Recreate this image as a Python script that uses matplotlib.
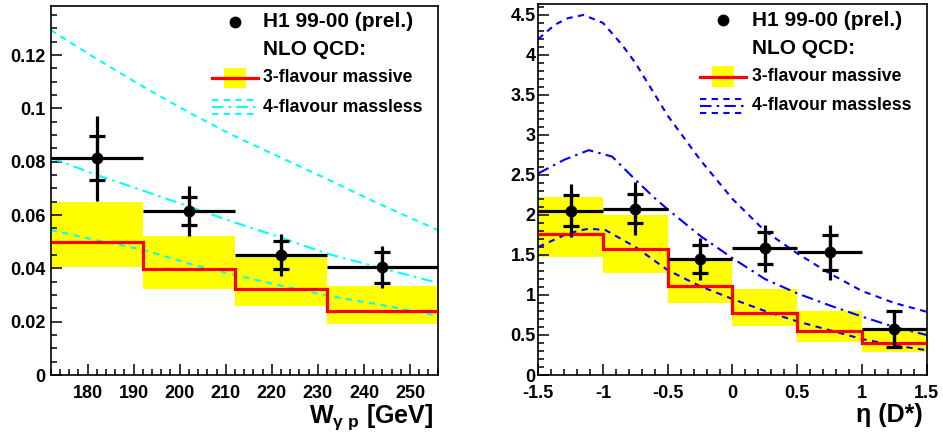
import matplotlib
matplotlib.use("Agg")
import matplotlib.pyplot as plt
from matplotlib.patches import Rectangle
from matplotlib.ticker import MultipleLocator, FuncFormatter, AutoMinorLocator
import numpy as np

plt.rcParams['font.family'] = ['Liberation Sans', 'DejaVu Sans']
plt.rcParams['font.weight'] = 'bold'
plt.rcParams['axes.unicode_minus'] = False
plt.rcParams['mathtext.fontset'] = 'custom'
plt.rcParams['mathtext.rm'] = 'Liberation Sans:bold'
plt.rcParams['mathtext.it'] = 'Liberation Sans:bold'
plt.rcParams['mathtext.bf'] = 'Liberation Sans:bold'

# ---------------- Left panel: W_gamma_p ----------------
W_edges = [172, 192, 212, 232, 256]
W_centers = [182, 202, 222, 244]
W_xerr = [10, 10, 10, 12]
W_data = [0.0813, 0.0616, 0.0450, 0.0404]
W_stat = [0.0082, 0.0052, 0.0052, 0.0058]
W_tot = [0.0160, 0.0094, 0.0077, 0.0078]
W_band_lo = [0.0406, 0.0321, 0.0260, 0.0191]
W_band_hi = [0.0648, 0.0523, 0.0444, 0.0334]
W_nlo3 = [0.0500, 0.0398, 0.0323, 0.0240]

W_curve_x = [172, 182, 192, 202, 212, 222, 232, 242, 256]
W_upper = [0.1294, 0.1185, 0.1082, 0.0985, 0.0895, 0.0815, 0.0735, 0.0652, 0.0544]
W_curve_x2 = [172, 182, 192, 202, 212, 222, 232, 244, 256]
W_mid = [0.0815, 0.0750, 0.0692, 0.0632, 0.0572, 0.0515, 0.0455, 0.0400, 0.0346]
W_lower = [0.0544, 0.0505, 0.0470, 0.0418, 0.0375, 0.0335, 0.0298, 0.0262, 0.0222]

# ---------------- Right panel: eta(D*) ----------------
eta_edges = [-1.5, -1.0, -0.5, 0.0, 0.5, 1.0, 1.5]
eta_centers = [-1.25, -0.75, -0.25, 0.25, 0.75, 1.25]
eta_data = [2.054, 2.080, 1.446, 1.583, 1.533, 0.575]
eta_stat = [0.190, 0.185, 0.177, 0.200, 0.220, 0.225]
eta_tot = [0.330, 0.335, 0.260, 0.290, 0.340, 0.235]
eta_band_lo = [1.479, 1.271, 0.896, 0.6125, 0.417, 0.290]
eta_band_hi = [2.225, 2.004, 1.458, 1.071, 0.804, 0.583]
eta_nlo3 = [1.758, 1.571, 1.1125, 0.771, 0.550, 0.404]

eta_up_x = [-1.5, -1.37, -1.27, -1.15, -1.0, -0.85, -0.75, -0.5, -0.25, 0.0, 0.25, 0.5, 0.75, 1.0, 1.25, 1.5]
eta_upper = [4.20, 4.38, 4.46, 4.50, 4.40, 4.12, 3.90, 3.24, 2.69, 2.20, 1.80, 1.52, 1.27, 1.05, 0.90, 0.79]
eta_mid_x = [-1.5, -1.3, -1.11, -0.93, -0.75, -0.6, -0.5, -0.25, 0.0, 0.25, 0.5, 0.75, 1.0, 1.25, 1.5]
eta_mid = [2.52, 2.69, 2.81, 2.73, 2.44, 2.21, 2.07, 1.74, 1.46, 1.20, 1.02, 0.87, 0.73, 0.60, 0.50]
eta_lo_x = [-1.5, -1.27, -1.11, -0.98, -0.75, -0.5, -0.25, 0.0, 0.25, 0.5, 0.75, 1.0, 1.25, 1.5]
eta_lower = [1.60, 1.77, 1.83, 1.81, 1.60, 1.31, 1.11, 0.95, 0.80, 0.67, 0.56, 0.45, 0.37, 0.31]

legend_data = "H1 99-00 (prel.)"
legend_nlo = "NLO QCD:"
legend_3f = "3-flavour massive"
legend_4f = "4-flavour massless"

DASH = (0, (3.0, 2.6))
DASHDOT = (0, (5.5, 2.5, 1.2, 2.5))

fig = plt.figure(figsize=(9.43, 4.33), dpi=100)
axL = fig.add_axes([50.7 / 943, 58 / 433, 387 / 943, 369 / 433])
axR = fig.add_axes([538.3 / 943, 58 / 433, 388.4 / 943, 370.7 / 433])


def fmt(v, pos):
    return '%g' % round(v, 6)


def draw_panel(ax, edges, centers, xerr, data, stat, tot, blo, bhi, nlo3,
               curves, ccolor, xlim, ylim, xmaj, xmin_n, ymaj, ymin_n, ypad):
    edges = np.asarray(edges)
    widths = np.diff(edges)
    ax.bar(edges[:-1], np.asarray(bhi) - np.asarray(blo), bottom=blo, width=widths,
           align='edge', color='#ffff00', edgecolor='none', zorder=1)
    for (cx, cy, ls) in curves:
        ax.plot(cx, cy, color=ccolor, lw=1.5, linestyle=ls, zorder=2)
    ax.stairs(nlo3, edges, color='#ff0000', lw=2.3, baseline=None, zorder=3)
    # total errors + x bins
    ax.errorbar(centers, data, xerr=xerr, yerr=tot, fmt='o', color='black',
                ms=7.5, elinewidth=2.3, capsize=0, zorder=5)
    # stat errors with caps
    ax.errorbar(centers, data, yerr=stat, fmt='none', ecolor='black',
                elinewidth=2.3, capsize=5.8, capthick=2.3, zorder=5)
    ax.set_xlim(*xlim)
    ax.set_ylim(*ylim)
    ax.xaxis.set_major_locator(MultipleLocator(xmaj))
    ax.xaxis.set_minor_locator(AutoMinorLocator(xmin_n))
    ax.yaxis.set_major_locator(MultipleLocator(ymaj))
    ax.yaxis.set_minor_locator(AutoMinorLocator(ymin_n))
    ax.xaxis.set_major_formatter(FuncFormatter(fmt))
    ax.yaxis.set_major_formatter(FuncFormatter(fmt))
    ax.tick_params(which='both', direction='in', top=False, right=False,
                   width=1.1, labelsize=13)
    ax.tick_params(which='major', length=8)
    ax.tick_params(which='minor', length=4)
    ax.tick_params(axis='x', pad=7)
    ax.tick_params(axis='y', pad=ypad)
    for lab in ax.get_xticklabels() + ax.get_yticklabels():
        lab.set_fontweight('bold')
    for s in ax.spines.values():
        s.set_linewidth(1.2)

    # legend drawn by hand (axes coords)
    T = ax.transAxes
    ax.plot([0.476], [0.957], 'o', color='black', ms=7.5, transform=T, zorder=6)
    tx = 0.549
    ax.text(tx, 0.957, legend_data, transform=T, fontsize=15, fontweight='bold', va='center', ha='left')
    ax.text(tx, 0.881, legend_nlo, transform=T, fontsize=15, fontweight='bold', va='center', ha='left')
    ax.add_patch(Rectangle((0.448, 0.777), 0.056, 0.056, transform=T,
                           facecolor='#ffff00', edgecolor='none', zorder=5))
    ax.plot([0.417, 0.536], [0.805, 0.805], color='#ff0000', lw=2.3, transform=T, zorder=6)
    ax.text(tx, 0.805, legend_3f, transform=T, fontsize=12.7, fontweight='bold', va='center', ha='left')
    ax.plot([0.417, 0.536], [0.745, 0.745], color=ccolor, lw=1.5, ls=DASH, transform=T)
    ax.plot([0.417, 0.536], [0.726, 0.726], color=ccolor, lw=1.5, ls=DASHDOT, transform=T)
    ax.plot([0.417, 0.536], [0.707, 0.707], color=ccolor, lw=1.5, ls=DASH, transform=T)
    ax.text(tx, 0.726, legend_4f, transform=T, fontsize=12.7, fontweight='bold', va='center', ha='left')


draw_panel(axL, W_edges, W_centers, W_xerr, W_data, W_stat, W_tot,
           W_band_lo, W_band_hi, W_nlo3,
           [(W_curve_x, W_upper, DASH), (W_curve_x2, W_mid, DASHDOT), (W_curve_x2, W_lower, DASH)],
           '#00ffff', (172, 256), (0, 0.1384), 10, 5, 0.02, 4, 4)
axL.text(0.988, -0.130, r'W$_{\gamma\ \mathrm{p}}$ [GeV]', transform=axL.transAxes,
         fontsize=18, fontweight='bold', ha='right', va='baseline')

draw_panel(axR, eta_edges, eta_centers, [0.25] * 6, eta_data, eta_stat, eta_tot,
           eta_band_lo, eta_band_hi, eta_nlo3,
           [(eta_up_x, eta_upper, DASH), (eta_mid_x, eta_mid, DASHDOT), (eta_lo_x, eta_lower, DASH)],
           '#0000ff', (-1.5, 1.5), (0, 4.633), 0.5, 5, 0.5, 5, 2)
axR.text(0.990, -0.127, 'η (D*)', transform=axR.transAxes,
         fontsize=18, fontweight='bold', ha='right', va='baseline')

fig.savefig('out.png', dpi=100)
